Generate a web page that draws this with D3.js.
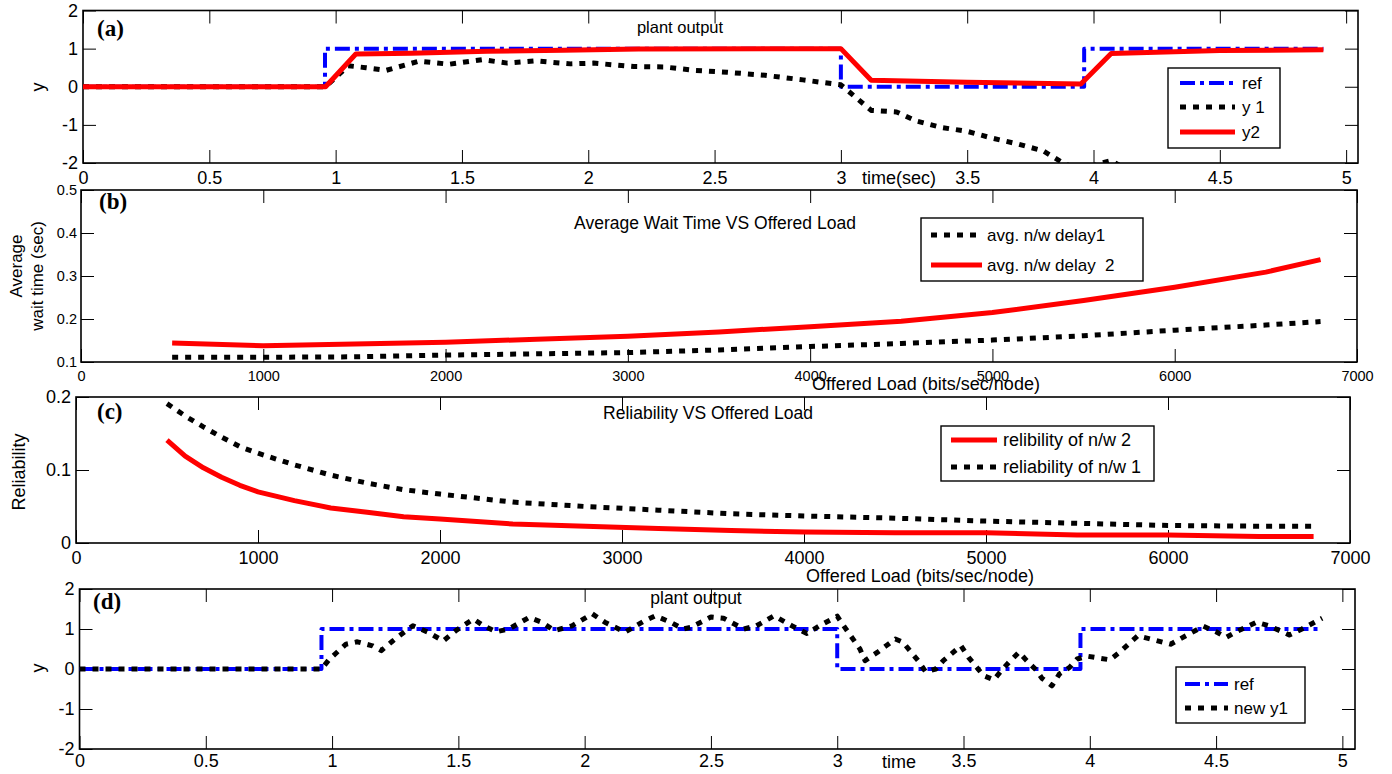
<!DOCTYPE html>
<html>
<head>
<meta charset="utf-8">
<script src="https://cdn.jsdelivr.net/npm/d3@7"></script>
<style>
  body { margin: 0; background: #fff; }
  text { font-family: Arial, "Liberation Sans", sans-serif; fill: #000; white-space: pre; }
</style>
</head>
<body>
<svg id="chart" width="1392" height="774"></svg>
<script>
// ----------- DATA -----------
const timeTicks = [0, 0.5, 1, 1.5, 2, 2.5, 3, 3.5, 4, 4.5, 5];
const plantTicks = [-2, -1, 0, 1, 2];
const loadTicks = [0, 1000, 2000, 3000, 4000, 5000, 6000, 7000];
const waitTicks = [0.1, 0.2, 0.3, 0.4, 0.5];
const relTicks = [0, 0.1, 0.2];

// (a) and (d) reference step
const refT = [0, 0.958, 0.958, 3.0, 3.0, 3.963, 3.963, 4.91];
const refY = [0, 0, 1, 1, 0, 0, 1, 1];

// (a) y 1 (unstable, leaves the axes below -2)
const y1T = [0, 0.96, 1.05, 1.12, 1.2, 1.33, 1.45, 1.58, 1.68, 1.79, 1.93, 2.02, 2.18, 2.3, 2.42, 2.55, 2.7, 2.85, 3.0,
             3.12, 3.22, 3.3, 3.4, 3.5, 3.6, 3.7, 3.8, 3.88, 3.95, 4.02, 4.07, 4.1, 4.15];
const y1Y = [0, 0, 0.55, 0.5, 0.43, 0.67, 0.59, 0.71, 0.62, 0.68, 0.6, 0.62, 0.53, 0.52, 0.43, 0.38, 0.3, 0.18, 0.05,
             -0.62, -0.66, -0.9, -1.07, -1.17, -1.35, -1.5, -1.68, -2.0, -2.2, -2.02, -1.94, -2.05, -2.3];

// (a) y2
const y2T = [0, 0.96, 1.08, 1.3, 1.6, 1.9, 2.2, 3.0, 3.12, 3.5, 3.95, 4.07, 4.5, 4.91];
const y2Y = [0, 0, 0.86, 0.88, 0.93, 0.96, 0.99, 1.0, 0.17, 0.12, 0.07, 0.87, 0.95, 0.97];

// (b) average wait time
const waitLoad = [500, 1000, 1500, 2000, 2500, 3000, 3500, 4000, 4500, 5000, 5500, 6000, 6500, 6800];
const delay1 = [0.111, 0.111, 0.112, 0.116, 0.119, 0.122, 0.128, 0.136, 0.143, 0.151, 0.161, 0.174, 0.186, 0.194];
const delay2 = [0.144, 0.138, 0.142, 0.146, 0.153, 0.160, 0.170, 0.182, 0.195, 0.215, 0.243, 0.274, 0.309, 0.338];

// (c) reliability
const relLoad = [500, 600, 700, 800, 900, 1000, 1200, 1400, 1600, 1800, 2000, 2400, 2800, 3200, 3600, 4000, 4500, 5000, 5500, 6000, 6500, 6800];
const rel2 = [0.141, 0.119, 0.103, 0.090, 0.079, 0.070, 0.058, 0.048, 0.042, 0.036, 0.033, 0.026, 0.023, 0.020, 0.017, 0.015, 0.014, 0.014, 0.011, 0.011, 0.009, 0.009];
const rel1 = [0.191, 0.174, 0.159, 0.145, 0.132, 0.123, 0.107, 0.093, 0.082, 0.073, 0.067, 0.056, 0.050, 0.045, 0.040, 0.037, 0.034, 0.030, 0.027, 0.024, 0.023, 0.023];

// (d) new y1
const ny1T = [0, 0.958, 0.99, 1.055, 1.1, 1.16, 1.195, 1.24, 1.285, 1.32, 1.38, 1.44, 1.49, 1.56, 1.6, 1.65, 1.7, 1.78, 1.83, 1.88,
              1.95, 2.03, 2.08, 2.16, 2.23, 2.28, 2.34, 2.39, 2.42, 2.5, 2.55, 2.63, 2.68, 2.75, 2.82, 2.88, 2.93, 3.0,
              3.03, 3.09, 3.11, 3.16, 3.23, 3.26, 3.32, 3.35, 3.39, 3.42, 3.49, 3.52, 3.58, 3.62, 3.65, 3.68, 3.72, 3.75,
              3.79, 3.81, 3.85, 3.88, 3.92, 3.95, 3.99, 4.08, 4.12, 4.19, 4.24, 4.32, 4.38, 4.45, 4.5, 4.54, 4.58, 4.66,
              4.71, 4.79, 4.84, 4.89, 4.92];
const ny1Y = [0, 0, 0.25, 0.62, 0.68, 0.58, 0.46, 0.7, 0.92, 1.08, 0.92, 0.7, 0.96, 1.25, 1.08, 0.93, 1.0, 1.29, 1.17, 0.96,
              1.08, 1.38, 1.17, 0.92, 1.18, 1.33, 1.17, 1.0, 1.04, 1.3, 1.27, 1.0, 1.08, 1.33, 1.08, 0.89, 1.08, 1.32,
              1.04, 0.5, 0.21, 0.42, 0.75, 0.67, 0.21, -0.07, 0.0, 0.21, 0.58, 0.29, -0.17, -0.27, -0.04, 0.17, 0.42, 0.21,
              -0.04, -0.23, -0.42, -0.12, 0.04, 0.25, 0.32, 0.23, 0.43, 0.83, 0.75, 0.62, 0.83, 1.07, 0.93, 0.79, 0.93, 1.17,
              1.08, 0.85, 1.0, 1.17, 1.27];

// ----------- STYLES -----------
const sty = {
  ref: { stroke: "#0000ff", width: 4, dash: "15,5,4,5" },
  dot: { stroke: "#000000", width: 5, dash: "6,7" },
  red: { stroke: "#ff0000", width: 5, dash: null }
};

const svg = d3.select("#chart");
svg.append("rect").attr("width", 1392).attr("height", 774).attr("fill", "#fff");

let clipCount = 0;

function panel(o) {
  const x = d3.scaleLinear().domain(o.xDomain).range([o.left, o.right]);
  const y = d3.scaleLinear().domain(o.yDomain).range([o.bottom, o.top]);
  const g = svg.append("g");
  const id = "clip" + (clipCount++);
  g.append("clipPath").attr("id", id).append("rect")
    .attr("x", o.left).attr("y", o.top)
    .attr("width", o.right - o.left).attr("height", o.bottom - o.top);

  const tick = 13;
  const fmt = d => String(d);

  const bottom = g.append("g").attr("transform", `translate(0,${o.bottom})`)
    .call(d3.axisBottom(x).tickValues(o.xTicks).tickSizeInner(-tick).tickSizeOuter(0)
      .tickPadding(o.xPad).tickFormat(fmt));
  g.append("g").attr("transform", `translate(0,${o.top})`)
    .call(d3.axisTop(x).tickValues(o.xTicks).tickSizeInner(-tick).tickSizeOuter(0).tickFormat(""));
  const left = g.append("g").attr("transform", `translate(${o.left},0)`)
    .call(d3.axisLeft(y).tickValues(o.yTicks).tickSizeInner(-tick).tickSizeOuter(0)
      .tickPadding(o.yPad).tickFormat(fmt));
  g.append("g").attr("transform", `translate(${o.right},0)`)
    .call(d3.axisRight(y).tickValues(o.yTicks).tickSizeInner(-tick).tickSizeOuter(0).tickFormat(""));

  g.selectAll(".domain").remove();
  g.selectAll(".tick line").attr("stroke", "#000").attr("stroke-width", 1);
  [bottom, left].forEach(a => a.selectAll("text")
    .attr("font-family", "Arial, 'Liberation Sans', sans-serif")
    .attr("font-size", o.tickFont).attr("fill", "#000"));

  g.append("rect")
    .attr("x", o.left).attr("y", o.top)
    .attr("width", o.right - o.left).attr("height", o.bottom - o.top)
    .attr("fill", "none").attr("stroke", "#000").attr("stroke-width", 1.6);

  const plot = g.append("g").attr("clip-path", `url(#${id})`);
  return { x, y, g, plot };
}

function series(p, xs, ys, s) {
  const pts = xs.map((v, i) => [v, ys[i]]);
  p.plot.append("path")
    .datum(pts)
    .attr("d", d3.line().x(d => p.x(d[0])).y(d => p.y(d[1])))
    .attr("fill", "none")
    .attr("stroke", s.stroke)
    .attr("stroke-width", s.width)
    .attr("stroke-dasharray", s.dash)
    .attr("stroke-linejoin", "round");
}

function legend(box, rows, font) {
  const g = svg.append("g");
  g.append("rect").attr("x", box.x).attr("y", box.y).attr("width", box.w).attr("height", box.h)
    .attr("fill", "#fff").attr("stroke", "#000").attr("stroke-width", 1.4);
  rows.forEach(r => {
    g.append("line").attr("x1", box.l1).attr("x2", box.l2).attr("y1", r.y).attr("y2", r.y)
      .attr("stroke", r.s.stroke).attr("stroke-width", r.s.width).attr("stroke-dasharray", r.s.dash);
    g.append("text").attr("x", box.tx).attr("y", r.y + 6).attr("font-size", font).text(r.label);
  });
}

function label(txt, x, y, size, opts = {}) {
  const t = svg.append("text").attr("x", x).attr("y", y).attr("font-size", size).text(txt);
  if (opts.anchor) t.attr("text-anchor", opts.anchor);
  if (opts.rotate) t.attr("transform", `rotate(-90,${x},${y})`);
  if (opts.bold) t.attr("font-weight", "bold").style("font-family", "'Liberation Serif', 'Times New Roman', serif");
  return t;
}

// ----------- (a) PLANT OUTPUT -----------
const pa = panel({ left: 83, right: 1358, top: 10.5, bottom: 163, xDomain: [0, 5.047], yDomain: [-2, 2],
  xTicks: timeTicks, yTicks: plantTicks, tickFont: 18, xPad: 8, yPad: 5 });
series(pa, refT, refY, sty.ref);
series(pa, y1T, y1Y, sty.dot);
series(pa, y2T, y2Y, sty.red);
label("(a)", 97, 36, 23, { bold: true });
label("plant output", 680, 33, 16.5, { anchor: "middle" });
label("time(sec)", 862, 184, 18);
label("y", 44, 87, 18, { anchor: "middle", rotate: true });
legend({ x: 1168, y: 68, w: 112, h: 80, l1: 1180, l2: 1235, tx: 1242 }, [
  { y: 83, s: sty.ref, label: "ref" },
  { y: 107, s: sty.dot, label: "y 1" },
  { y: 132, s: sty.red, label: "y2" }
], 17);

// ----------- (b) AVERAGE WAIT TIME -----------
const pb = panel({ left: 81, right: 1357, top: 190, bottom: 362, xDomain: [0, 7000], yDomain: [0.1, 0.5],
  xTicks: loadTicks, yTicks: waitTicks, tickFont: 14.5, xPad: 9, yPad: 4 });
series(pb, waitLoad, delay1, sty.dot);
series(pb, waitLoad, delay2, sty.red);
label("(b)", 99, 209, 23, { bold: true });
label("Average Wait Time VS Offered Load", 715, 229, 17.5, { anchor: "middle" });
label("Offered Load (bits/sec/node)", 926, 390, 18, { anchor: "middle" });
label("Average", 22, 266, 17, { anchor: "middle", rotate: true });
label("wait time (sec)", 43, 276, 17, { anchor: "middle", rotate: true });
legend({ x: 921, y: 218, w: 222, h: 63, l1: 931, l2: 982, tx: 987 }, [
  { y: 235, s: sty.dot, label: "avg. n/w delay1" },
  { y: 265, s: sty.red, label: "avg. n/w delay  2" }
], 17);

// ----------- (c) RELIABILITY -----------
const pc = panel({ left: 76, right: 1350, top: 397, bottom: 543, xDomain: [0, 7000], yDomain: [0, 0.2],
  xTicks: loadTicks, yTicks: relTicks, tickFont: 18, xPad: 8, yPad: 5 });
series(pc, relLoad, rel1, sty.dot);
series(pc, relLoad, rel2, sty.red);
label("(c)", 97, 419, 23, { bold: true });
label("Reliability VS Offered Load", 708, 419, 17.5, { anchor: "middle" });
label("Offered Load (bits/sec/node)", 920, 582, 18, { anchor: "middle" });
label("Reliability", 25, 472, 18, { anchor: "middle", rotate: true });
legend({ x: 941, y: 426, w: 213, h: 55, l1: 951, l2: 997, tx: 1003 }, [
  { y: 440, s: sty.red, label: "relibility of n/w 2" },
  { y: 467, s: sty.dot, label: "reliability of n/w 1" }
], 18);

// ----------- (d) PLANT OUTPUT (new y1) -----------
const pd = panel({ left: 79.5, right: 1355, top: 589, bottom: 749, xDomain: [0, 5.05], yDomain: [-2, 2],
  xTicks: timeTicks, yTicks: plantTicks, tickFont: 18, xPad: 5, yPad: 5 });
series(pd, refT, refY, sty.ref);
series(pd, ny1T, ny1Y, sty.dot);
label("(d)", 93, 609, 23, { bold: true });
label("plant output", 696, 604, 17.5, { anchor: "middle" });
label("time", 882, 768, 18);
label("y", 44, 668, 18, { anchor: "middle", rotate: true });
legend({ x: 1176, y: 667, w: 129, h: 56, l1: 1185, l2: 1228, tx: 1234 }, [
  { y: 684, s: sty.ref, label: "ref" },
  { y: 708, s: sty.dot, label: "new y1" }
], 17);
</script>
</body>
</html>
